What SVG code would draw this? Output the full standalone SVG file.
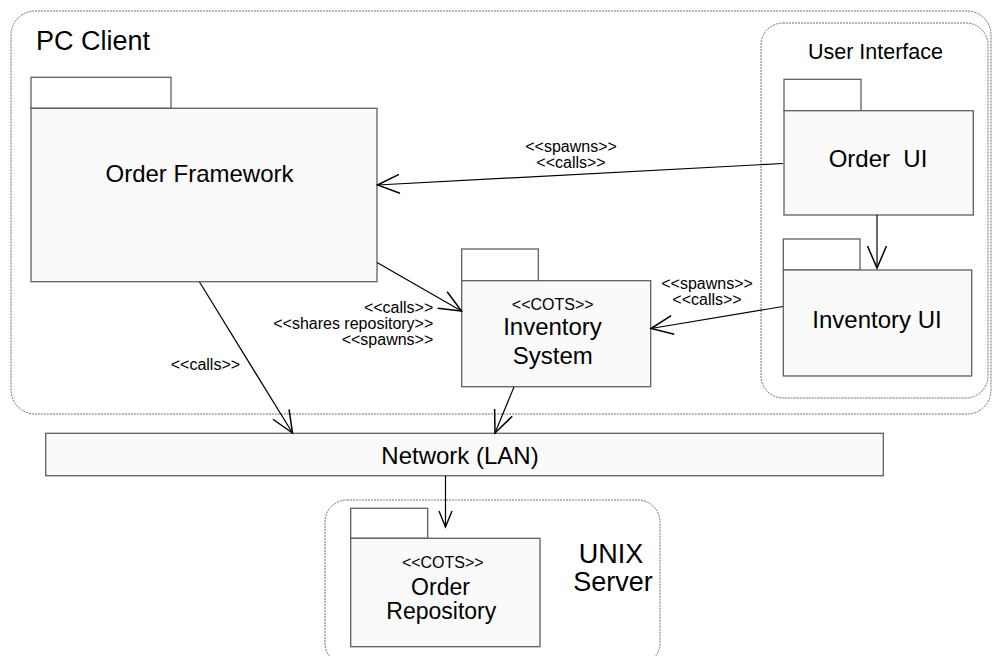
<svg xmlns="http://www.w3.org/2000/svg" width="992" height="656" viewBox="0 0 992 656">
<defs>
<style>
.cont{fill:#ffffff;stroke:#707070;stroke-width:1;stroke-dasharray:2 1}
.tab{fill:#ffffff;stroke:#606060;stroke-width:1.3}
.body{fill:#fafafa;stroke:#606060;stroke-width:1.3}
.t{font-family:"Liberation Sans",Arial,sans-serif;fill:#000}
.big{font-size:24px;text-anchor:middle}
.st{font-size:16px;text-anchor:middle}
.lbl{font-size:16px}
.edge{stroke:#000;stroke-width:1.2;fill:none}
</style>
<marker id="arr" markerUnits="userSpaceOnUse" viewBox="-26 -13 30 26" markerWidth="30" markerHeight="26" refX="0" refY="0" orient="auto">
<path d="M-22,-9.5 L0,0 L-22,9.5" fill="none" stroke="#000" stroke-width="1.5"/>
</marker>
<marker id="arrs" markerUnits="userSpaceOnUse" viewBox="-20 -10 24 20" markerWidth="24" markerHeight="20" refX="0" refY="0" orient="auto">
<path d="M-16,-6.5 L0,0 L-16,6.5" fill="none" stroke="#000" stroke-width="1.4"/>
</marker>
</defs>
<rect width="992" height="656" fill="#ffffff"/>

<g id="pc-client">
<rect class="cont" x="11" y="11" width="980" height="403" rx="24" ry="24"/>
<text class="t" x="36" y="50" font-size="27">PC Client</text>
</g>

<g id="user-interface">
<rect class="cont" x="761" y="23" width="227" height="375" rx="22" ry="22"/>
<text class="t" x="875.5" y="59" font-size="21.5" text-anchor="middle">User Interface</text>
</g>

<g id="unix-server">
<rect class="cont" x="325" y="500" width="335" height="165" rx="22" ry="22"/>
<text class="t" x="611" y="563" font-size="27" text-anchor="middle">UNIX</text>
<text class="t" x="613" y="590.5" font-size="27" text-anchor="middle">Server</text>
</g>

<g id="order-framework">
<rect class="tab" x="31" y="77.3" width="140" height="31"/>
<rect class="body" x="31" y="108.3" width="346" height="173.4"/>
<text class="t big" x="199.5" y="182">Order Framework</text>
</g>

<g id="order-ui">
<rect class="tab" x="784" y="79.3" width="77" height="31.4"/>
<rect class="body" x="784" y="110.7" width="189.3" height="104.3"/>
<text class="t big" x="878" y="166.7" xml:space="preserve" style="white-space:pre">Order  UI</text>
</g>

<g id="inventory-ui">
<rect class="tab" x="783.3" y="239" width="76.7" height="31"/>
<rect class="body" x="783.3" y="270" width="188.4" height="106"/>
<text class="t big" x="877" y="328">Inventory UI</text>
</g>

<g id="inventory-system">
<rect class="tab" x="461.7" y="249" width="76.6" height="31.7"/>
<rect class="body" x="461.7" y="280.7" width="189" height="106"/>
<text class="t st" x="552.7" y="310">&lt;&lt;COTS&gt;&gt;</text>
<text class="t big" x="552.5" y="335">Inventory</text>
<text class="t big" x="552.8" y="363.5">System</text>
</g>

<g id="network">
<rect class="body" x="45.7" y="433.3" width="837.6" height="42.4"/>
<text class="t big" x="460" y="463.5">Network (LAN)</text>
</g>

<g id="order-repository">
<rect class="tab" x="350.7" y="508.3" width="77" height="30"/>
<rect class="body" x="350.7" y="538.3" width="189.3" height="108.4"/>
<text class="t st" x="442.8" y="568.3">&lt;&lt;COTS&gt;&gt;</text>
<text class="t" x="440.5" y="595" font-size="23" text-anchor="middle">Order</text>
<text class="t" x="441.3" y="618.5" font-size="23" text-anchor="middle">Repository</text>
</g>

<g id="connectors">
<line class="edge" x1="783" y1="163.5" x2="377.5" y2="185" marker-end="url(#arr)"/>
<line class="edge" x1="377" y1="262.5" x2="461.5" y2="311" marker-end="url(#arr)"/>
<line class="edge" x1="783" y1="306.5" x2="651" y2="328.5" marker-end="url(#arr)"/>
<line class="edge" x1="877" y1="215" x2="877" y2="268" marker-end="url(#arr)"/>
<line class="edge" x1="199.5" y1="282" x2="292.5" y2="433" marker-end="url(#arr)"/>
<line class="edge" x1="514" y1="387" x2="495" y2="433" marker-end="url(#arr)"/>
<line class="edge" x1="445.5" y1="476" x2="445.5" y2="527" marker-end="url(#arrs)"/>
<g id="labels">
<text class="t st" x="571" y="152">&lt;&lt;spawns&gt;&gt;</text>
<text class="t st" x="571" y="167.8">&lt;&lt;calls&gt;&gt;</text>
<text class="t lbl" x="433.3" y="312.5" text-anchor="end">&lt;&lt;calls&gt;&gt;</text>
<text class="t lbl" x="433.3" y="329" text-anchor="end">&lt;&lt;shares repository&gt;&gt;</text>
<text class="t lbl" x="433.3" y="344.5" text-anchor="end">&lt;&lt;spawns&gt;&gt;</text>
<text class="t lbl" x="170.7" y="370">&lt;&lt;calls&gt;&gt;</text>
<text class="t st" x="707" y="289.3">&lt;&lt;spawns&gt;&gt;</text>
<text class="t st" x="707" y="305">&lt;&lt;calls&gt;&gt;</text>
</g>
</g>
</svg>
